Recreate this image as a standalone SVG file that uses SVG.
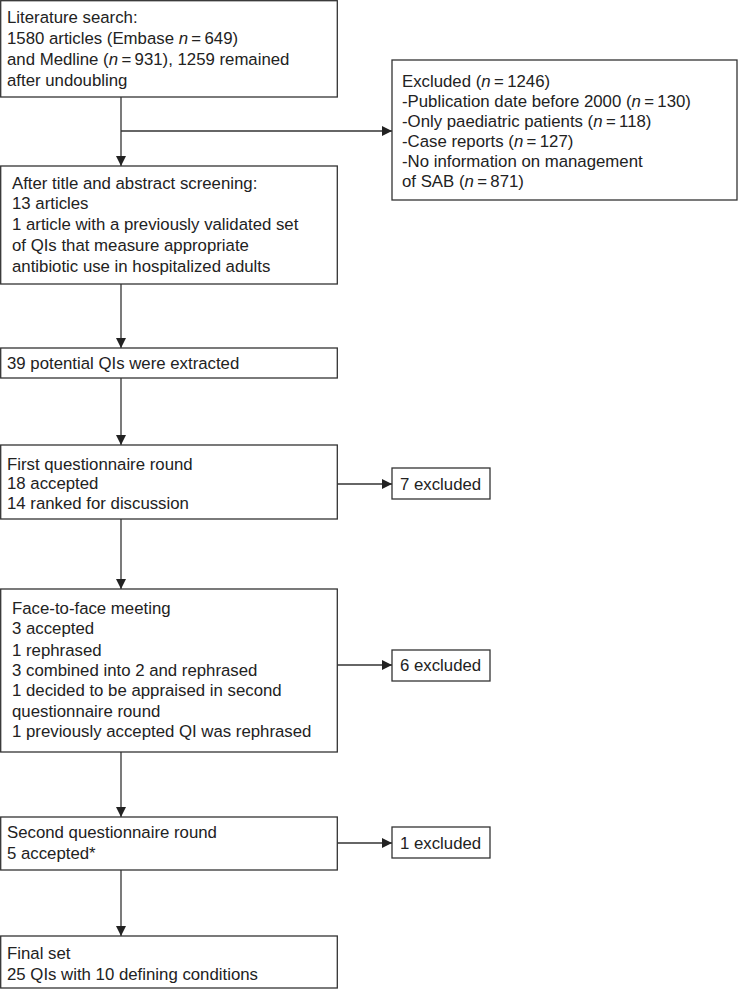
<svg xmlns="http://www.w3.org/2000/svg" width="738" height="989" viewBox="0 0 738 989">
<defs>
<marker id="ah" viewBox="0 0 10 10" refX="10" refY="5" markerWidth="10" markerHeight="10" markerUnits="userSpaceOnUse" orient="auto">
<path d="M0,0 L10,5 L0,10 z" fill="#222"/>
</marker>
<style>
.box{fill:#fff;stroke:#333;stroke-width:1.3}
.t{font-family:"Liberation Sans",Arial,sans-serif;font-size:16.8px;fill:#222}
.i{font-style:italic}
.c{fill:none;stroke:#333;stroke-width:1.3}
</style>
</defs>
<rect width="738" height="989" fill="#fff"/>
<g id="connectors">
<line class="c" x1="121" y1="97" x2="121" y2="166" marker-end="url(#ah)"/>
<line class="c" x1="121" y1="131" x2="392" y2="131" marker-end="url(#ah)"/>
<line class="c" x1="121" y1="284" x2="121" y2="348" marker-end="url(#ah)"/>
<line class="c" x1="121" y1="378" x2="121" y2="445" marker-end="url(#ah)"/>
<line class="c" x1="337" y1="484" x2="392" y2="484" marker-end="url(#ah)"/>
<line class="c" x1="121" y1="519" x2="121" y2="589" marker-end="url(#ah)"/>
<line class="c" x1="337" y1="665" x2="392" y2="665" marker-end="url(#ah)"/>
<line class="c" x1="121" y1="752" x2="121" y2="817" marker-end="url(#ah)"/>
<line class="c" x1="337" y1="843" x2="392" y2="843" marker-end="url(#ah)"/>
<line class="c" x1="121" y1="870" x2="121" y2="936" marker-end="url(#ah)"/>
</g>
<g id="n1">
<rect class="box" x="0.7" y="0.7" width="336.6" height="96.3"/>
<text class="t" x="7" y="23">Literature search:</text>
<text class="t" x="7" y="44">1580 articles (Embase <tspan class="i">n</tspan>&#8201;=&#8201;649)</text>
<text class="t" x="7" y="65">and Medline (<tspan class="i">n</tspan>&#8201;=&#8201;931), 1259 remained</text>
<text class="t" x="7" y="86">after undoubling</text>
</g>
<g id="n2">
<rect class="box" x="392" y="60" width="345" height="140"/>
<text class="t" x="402" y="87">Excluded (<tspan class="i">n</tspan>&#8201;=&#8201;1246)</text>
<text class="t" x="402" y="107">-Publication date before 2000 (<tspan class="i">n</tspan>&#8201;=&#8201;130)</text>
<text class="t" x="402" y="127">-Only paediatric patients (<tspan class="i">n</tspan>&#8201;=&#8201;118)</text>
<text class="t" x="402" y="147">-Case reports (<tspan class="i">n</tspan>&#8201;=&#8201;127)</text>
<text class="t" x="402" y="167">-No information on management</text>
<text class="t" x="402" y="187">of SAB (<tspan class="i">n</tspan>&#8201;=&#8201;871)</text>
</g>
<g id="n3">
<rect class="box" x="0.7" y="166" width="336.6" height="118"/>
<text class="t" x="12" y="189">After title and abstract screening:</text>
<text class="t" x="12" y="209">13 articles</text>
<text class="t" x="12" y="230">1 article with a previously validated set</text>
<text class="t" x="12" y="251">of QIs that measure appropriate</text>
<text class="t" x="12" y="272">antibiotic use in hospitalized adults</text>
</g>
<g id="n4">
<rect class="box" x="0.7" y="348" width="336.6" height="30"/>
<text class="t" x="7" y="369">39 potential QIs were extracted</text>
</g>
<g id="n5">
<rect class="box" x="0.7" y="445" width="336.6" height="74"/>
<text class="t" x="7" y="470">First questionnaire round</text>
<text class="t" x="7" y="489">18 accepted</text>
<text class="t" x="7" y="509">14 ranked for discussion</text>
</g>
<g id="n6">
<rect class="box" x="392" y="468" width="98" height="31"/>
<text class="t" x="400" y="490">7 excluded</text>
</g>
<g id="n7">
<rect class="box" x="0.7" y="589" width="336.6" height="163"/>
<text class="t" x="12" y="614">Face-to-face meeting</text>
<text class="t" x="12" y="634">3 accepted</text>
<text class="t" x="12" y="656">1 rephrased</text>
<text class="t" x="12" y="676">3 combined into 2 and rephrased</text>
<text class="t" x="12" y="696">1 decided to be appraised in second</text>
<text class="t" x="12" y="717">questionnaire round</text>
<text class="t" x="12" y="737">1 previously accepted QI was rephrased</text>
</g>
<g id="n8">
<rect class="box" x="392" y="650" width="98" height="31"/>
<text class="t" x="400" y="671">6 excluded</text>
</g>
<g id="n9">
<rect class="box" x="0.7" y="817" width="336.6" height="53"/>
<text class="t" x="7" y="838">Second questionnaire round</text>
<text class="t" x="7" y="859">5 accepted*</text>
</g>
<g id="n10">
<rect class="box" x="392" y="827" width="98" height="31"/>
<text class="t" x="400" y="849">1 excluded</text>
</g>
<g id="n11">
<rect class="box" x="0.7" y="936" width="336.6" height="52"/>
<text class="t" x="7" y="959">Final set</text>
<text class="t" x="7" y="980">25 QIs with 10 defining conditions</text>
</g>
</svg>
